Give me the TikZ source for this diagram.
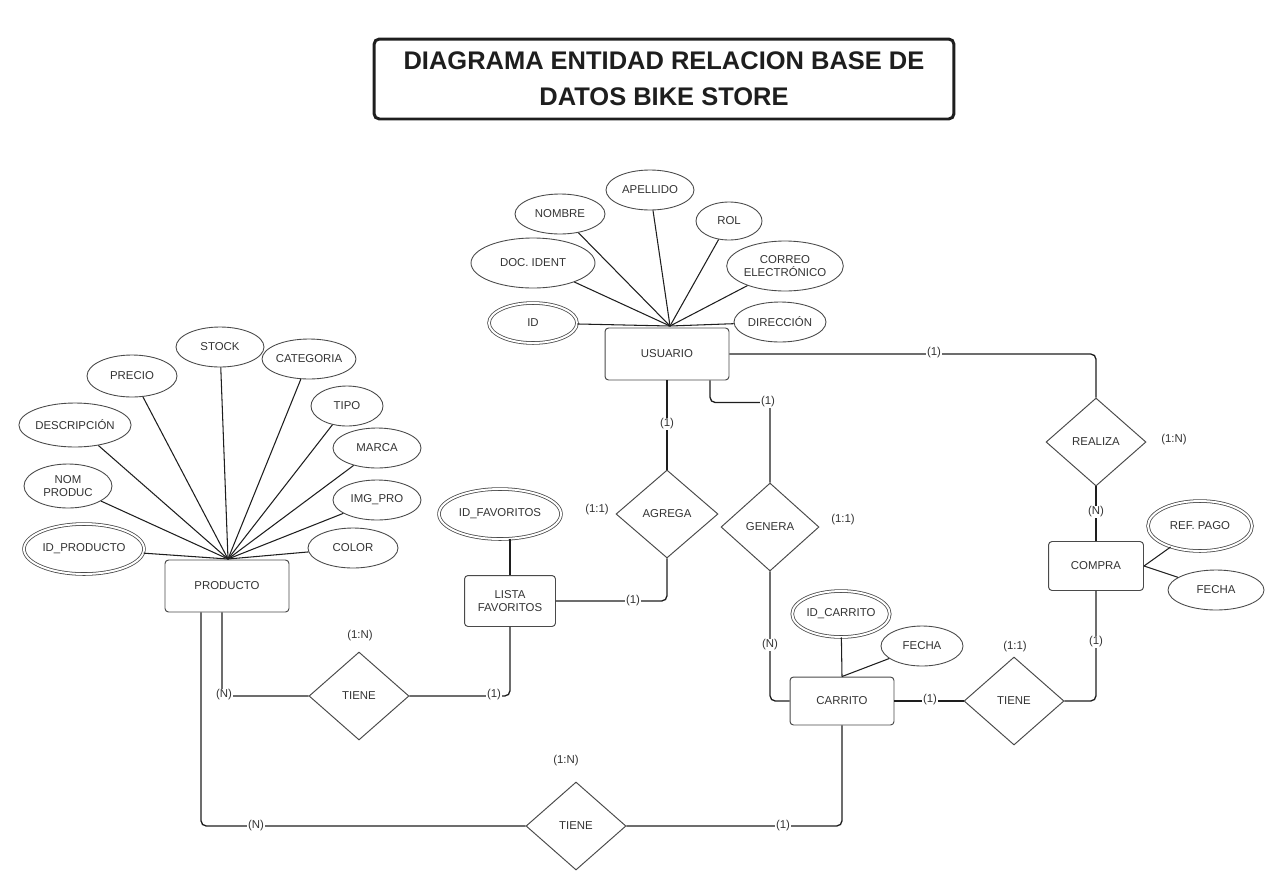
\documentclass[tikz,border=0pt]{standalone}
\usepackage{fontspec}
\setmainfont{Liberation Sans}
\usepackage{tikz}
\usetikzlibrary{shapes.geometric, positioning, calc}
\definecolor{er-line}{HTML}{1E1E1E}
\definecolor{er-shape}{HTML}{4A4A4A}
\definecolor{er-text}{HTML}{333333}

\tikzset{
    erfont/.style={font=\fontsize{6.5}{7.8}\selectfont, text=er-text},
    entity/.style={erfont, draw=er-shape, line width=0.55pt, rounded corners=2pt, align=center, inner sep=1pt},
    attr/.style={erfont, ellipse, draw=er-shape, line width=0.5pt, inner sep=0pt, align=center},
    keyattr/.style={attr, double, double distance=1.1pt, line width=0.45pt},
    rel/.style={erfont, diamond, draw=er-shape, line width=0.55pt, inner sep=0pt, minimum width=20mm, minimum height=17.6mm},
    card/.style={erfont, fill=white, inner sep=0.4pt},
    link/.style={draw=er-line, line width=0.75pt, rounded corners=3pt},
    spoke/.style={draw=er-line, line width=0.6pt},
    titlebox/.style={draw=er-line, line width=1.7pt, rounded corners=3pt, align=center,
        minimum width=116mm, minimum height=16mm, text=er-line,
        font=\fontsize{14.5}{20.5}\selectfont\bfseries}
}

\begin{document}
\begin{tikzpicture}[x=0.02cm, y=-0.02cm]
    \useasboundingbox (0,0) rectangle (1280,886);

    % Title
    \node[titlebox] (title) at (664,79) {DIAGRAMA ENTIDAD RELACION BASE DE\\DATOS BIKE STORE};

    % Entities
    \node[entity, minimum width=24.8mm, minimum height=10.4mm] (usuario) at (667,354) {USUARIO};
    \node[entity, minimum width=24.8mm, minimum height=10.4mm] (producto) at (227,586) {PRODUCTO};
    \node[entity, minimum width=18.2mm, minimum height=10.2mm] (lista) at (510,601) {LISTA\\FAVORITOS};
    \node[entity, minimum width=20.8mm, minimum height=9.6mm] (carrito) at (842,701) {CARRITO};
    \node[entity, minimum width=19mm, minimum height=9.8mm] (compra) at (1096,566) {COMPRA};

    % Relations
    \node[rel, minimum width=20.4mm] (agrega) at (667,514) {AGREGA};
    \node[rel, minimum width=19.6mm] (genera) at (770,527) {GENERA};
    \node[rel] (realiza) at (1096,442) {REALIZA};
    \node[rel] (tiene-lista) at (359,696) {TIENE};
    \node[rel] (tiene-carrito) at (576,826) {TIENE};
    \node[rel] (tiene-compra) at (1014,701) {TIENE};

    % Attributes of USUARIO
    \coordinate (u-hub) at (670,326);
    \node[keyattr, minimum width=17.6mm, minimum height=8mm] (u-id) at (533,323) {ID};
    \foreach \nm/\x/\y/\w/\h/\txt in {
        u-doc/533/263/24.8/10/{DOC. IDENT},
        u-nombre/560/214/18/8/{NOMBRE},
        u-apellido/650/190/17.6/8/{APELLIDO},
        u-rol/729/221/13.2/7.6/{ROL},
        u-correo/785/266/22/10/{CORREO\\ELECTRÓNICO},
        u-dir/780/322/18.4/8/{DIRECCIÓN}} {
        \node[attr, minimum width=\w mm, minimum height=\h mm] (\nm) at (\x,\y) {\txt};
    }
    \foreach \nm in {u-id,u-doc,u-nombre,u-apellido,u-rol,u-correo,u-dir}
        \draw[spoke] (u-hub) -- (\nm);

    % Attributes of PRODUCTO
    \coordinate (p-hub) at (228,559);
    \node[keyattr, minimum width=24mm, minimum height=10mm] (p-id) at (84,549) {ID\_PRODUCTO};
    \foreach \nm/\x/\y/\w/\h/\txt in {
        p-nom/68/486/17.6/8.8/{NOM\\PRODUC},
        p-desc/75/425/21.6/8.8/{DESCRIPCIÓN},
        p-precio/132/376/18/8.4/{PRECIO},
        p-stock/220/347/17.6/8/{STOCK},
        p-cat/309/359/18.4/8/{CATEGORIA},
        p-tipo/347/406/14.4/8/{TIPO},
        p-marca/377/448/17.6/8/{MARCA},
        p-img/377/500/17.6/8/{IMG\_PRO},
        p-color/353/548/18/8/{COLOR}} {
        \node[attr, minimum width=\w mm, minimum height=\h mm] (\nm) at (\x,\y) {\txt};
    }
    \foreach \nm in {p-id,p-nom,p-desc,p-precio,p-stock,p-cat,p-tipo,p-marca,p-img,p-color}
        \draw[spoke] (p-hub) -- (\nm);

    % Attributes of LISTA, CARRITO, COMPRA
    \node[keyattr, minimum width=24.4mm, minimum height=10mm] (l-id) at (500,514) {ID\_FAVORITOS};
    \node[keyattr, minimum width=19.2mm, minimum height=9.2mm] (c-id) at (841,614) {ID\_CARRITO};
    \node[attr, minimum width=16.4mm, minimum height=8mm] (c-fecha) at (922,646) {FECHA};
    \node[keyattr, minimum width=20.8mm, minimum height=10mm] (o-ref) at (1200,526) {REF. PAGO};
    \node[attr, minimum width=19.2mm, minimum height=8mm] (o-fecha) at (1216,590) {FECHA};

    \draw[spoke] (lista.north) -- (l-id.south -| lista.north);
    \draw[spoke] (carrito.north) -- (c-id);
    \draw[spoke] (carrito.north) -- (c-fecha);
    \draw[spoke] (compra.east) -- (o-ref);
    \draw[spoke] (compra.east) -- (o-fecha);

    % Connectors
    \draw[link] (usuario.east) -| (realiza.north);
    \draw[link] (realiza.south) -- (compra.north);
    \draw[link] (usuario.south) -- (agrega.north);
    \draw[link] (agrega.south) |- (lista.east);
    \draw[link] ($(usuario.south)+(43,0)$) |- ($(genera.north)+(0,-80)$) -- (genera.north);
    \draw[link] (genera.south) |- (carrito.west);
    \draw[link] (carrito.east) -- (tiene-compra.west);
    \draw[link] (tiene-compra.east) -| (compra.south);
    \draw[link] ($(producto.south)+(-5,0)$) |- (tiene-lista.west);
    \draw[link] (tiene-lista.east) -| (lista.south);
    \draw[link] ($(producto.south)+(-26,0)$) |- (tiene-carrito.west);
    \draw[link] (tiene-carrito.east) -| (carrito.south);

    % Cardinalities
    \foreach \nm/\x/\y/\txt in {
        k-ur/934/353/(1), k-ua/667/424/(1), k-agrega/597/510/(1:1), k-al/633/601/(1),
        k-ug/768/402/(1), k-genera/843/520/(1:1), k-gc/770/645/(N), k-ct/930/700/(1),
        k-tiene3/1015/647/(1:1), k-tc/1096/642/(1), k-realiza/1174/440/(1:N), k-rc/1096/512/(N),
        k-tiene1/360/636/(1:N), k-pt/224/695/(N), k-tl/494/695/(1),
        k-tiene2/566/761/(1:N), k-pc/256/826/(N), k-tk/783/826/(1)} {
        \node[card] (\nm) at (\x,\y) {\txt};
    }
\end{tikzpicture}
\end{document}
